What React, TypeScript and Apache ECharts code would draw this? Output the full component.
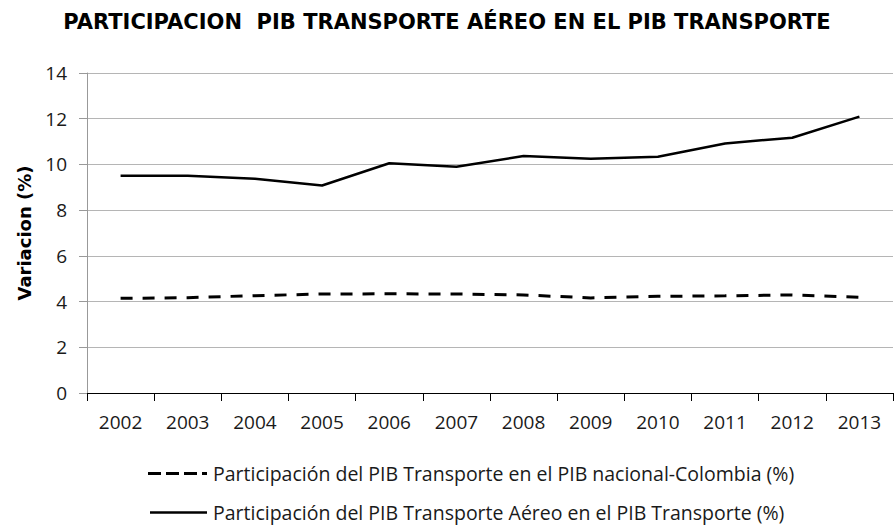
import React, { useEffect, useRef } from "react";
import * as echarts from "echarts";

const years = ["2002", "2003", "2004", "2005", "2006", "2007", "2008", "2009", "2010", "2011", "2012", "2013"];
const nacional = [4.14, 4.17, 4.26, 4.33, 4.34, 4.33, 4.29, 4.16, 4.23, 4.25, 4.29, 4.19];
const aereo = [9.5, 9.5, 9.37, 9.08, 10.05, 9.9, 10.37, 10.25, 10.34, 10.92, 11.17, 12.09];
const yTicks = { min: 0, max: 14, interval: 2 };
const titleText = "PARTICIPACION  PIB TRANSPORTE AÉREO EN EL PIB TRANSPORTE";
const yName = "Variacion (%)";
const nameNacional = "Participación del PIB Transporte en el PIB nacional-Colombia (%)";
const nameAereo = "Participación del PIB Transporte Aéreo en el PIB Transporte (%)";

const FONT = "'Open Sans', sans-serif";
const BOLD = "'DejaVu Sans', sans-serif";

export default function App() {
  const ref = useRef<HTMLDivElement>(null);
  useEffect(() => {
    document.body.style.margin = "0";
    const chart = echarts.init(ref.current!, null, { renderer: "svg" });
    chart.setOption({
      animation: false,
      backgroundColor: "#ffffff",
      title: {
        text: titleText,
        left: "center",
        top: 6,
        textStyle: { fontFamily: BOLD, fontWeight: "bold", fontSize: 21, color: "#000" },
      },
      grid: { left: 87, right: 1, top: 73, bottom: 135 },
      graphic: [
        {
          type: "line",
          shape: { x1: 148, y1: 473.5, x2: 207, y2: 473.5 },
          style: { stroke: "#000", lineWidth: 3, lineDash: [13, 5] },
        },
        {
          type: "text",
          x: 213,
          y: 473,
          style: { text: nameNacional, font: "19.5px 'Open Sans', sans-serif", fill: "#1a1a1a", verticalAlign: "middle" },
        },
        {
          type: "line",
          shape: { x1: 150, y1: 512.5, x2: 207, y2: 512.5 },
          style: { stroke: "#000", lineWidth: 2.5 },
        },
        {
          type: "text",
          x: 213,
          y: 512,
          style: { text: nameAereo, font: "19.5px 'Open Sans', sans-serif", fill: "#1a1a1a", verticalAlign: "middle" },
        },
      ],
      xAxis: {
        type: "category",
        data: years,
        boundaryGap: true,
        axisLine: { lineStyle: { color: "#000", width: 1 } },
        axisTick: { show: true, alignWithLabel: false, length: 8, lineStyle: { color: "#000" } },
        axisLabel: { fontFamily: FONT, fontSize: 19, color: "#1a1a1a", margin: 19 },
      },
      yAxis: {
        type: "value",
        min: yTicks.min,
        max: yTicks.max,
        interval: yTicks.interval,
        name: yName,
        nameLocation: "middle",
        nameGap: 54,
        nameTextStyle: { fontFamily: BOLD, fontWeight: "bold", fontSize: 18, color: "#000" },
        axisLine: { show: true, lineStyle: { color: "#999" } },
        axisTick: { show: true, length: 8, lineStyle: { color: "#999" } },
        axisLabel: { fontFamily: FONT, fontSize: 19, color: "#1a1a1a", margin: 20 },
        splitLine: { lineStyle: { color: "#b5b5b5", width: 1 } },
      },
      series: [
        {
          name: nameNacional,
          type: "line",
          data: nacional,
          symbol: "none",
          lineStyle: { color: "#000", width: 3, type: [12, 10] },
        },
        {
          name: nameAereo,
          type: "line",
          data: aereo,
          symbol: "none",
          lineStyle: { color: "#000", width: 2.5 },
        },
      ],
    });
    return () => chart.dispose();
  }, []);
  return <div ref={ref} style={{ width: 894, height: 528, position: "absolute", left: 0, top: 0 }} />;
}
